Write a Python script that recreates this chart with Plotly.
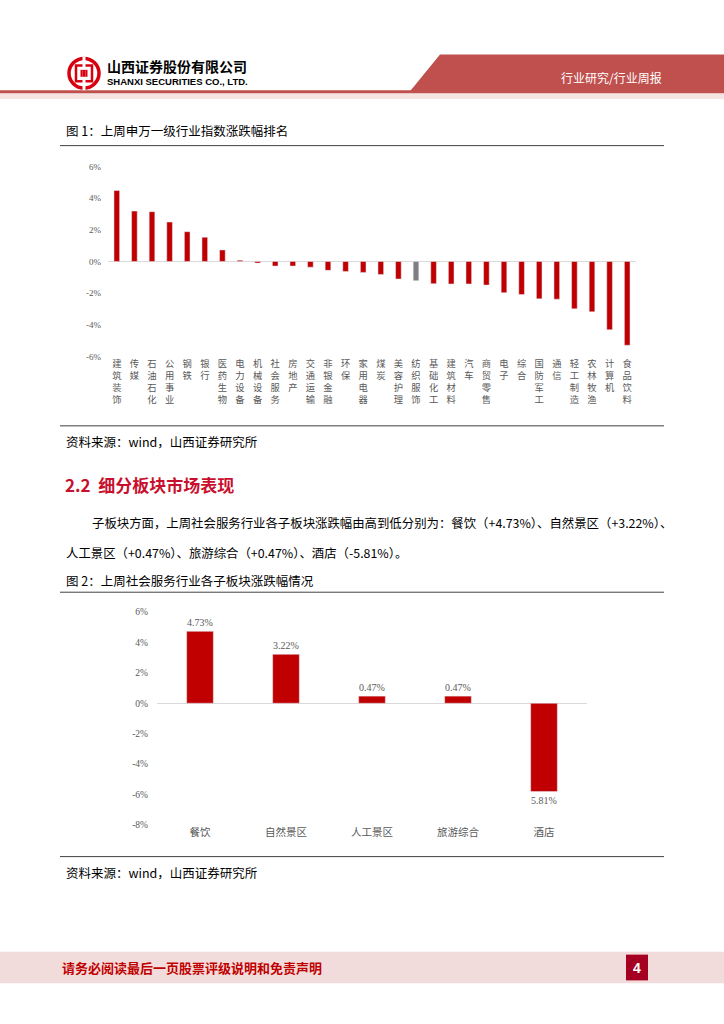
import plotly.graph_objects as go

# ---------------- data ----------------
cats1 = ["建筑装饰", "传媒", "石油石化", "公用事业", "钢铁", "银行", "医药生物", "电力设备",
         "机械设备", "社会服务", "房地产", "交通运输", "非银金融", "环保", "家用电器", "煤炭",
         "美容护理", "纺织服饰", "基础化工", "建筑材料", "汽车", "商贸零售", "电子", "综合",
         "国防军工", "通信", "轻工制造", "农林牧渔", "计算机", "食品饮料"]
vals1 = [4.48, 3.18, 3.14, 2.49, 1.88, 1.53, 0.73, 0.08,
         -0.10, -0.29, -0.29, -0.36, -0.56, -0.63, -0.69, -0.82,
         -1.11, -1.21, -1.40, -1.42, -1.42, -1.49, -1.97, -2.09,
         -2.36, -2.38, -2.99, -3.18, -4.31, -5.29]
highlight1 = "纺织服饰"
yticks1 = [-6, -4, -2, 0, 2, 4, 6]
yticktext1 = ["-6%", "-4%", "-2%", "0%", "2%", "4%", "6%"]

cats2 = ["餐饮", "自然景区", "人工景区", "旅游综合", "酒店"]
vals2 = [4.73, 3.22, 0.47, 0.47, -5.81]
labels2 = ["4.73%", "3.22%", "0.47%", "0.47%", "5.81%"]
yticks2 = [-8, -6, -4, -2, 0, 2, 4, 6]
yticktext2 = ["-8%", "-6%", "-4%", "-2%", "0%", "2%", "4%", "6%"]

# ---------------- helpers ----------------
W, H = 724, 1024
def px(x):
    return x / W
def py(y):
    return 1 - y / H

RED = "#C00000"
GRAY_BAR = "#7F7F7F"
TICK_COLOR = "#595959"
SERIF = "Liberation Serif, Noto Sans CJK SC"
CJK = "Noto Sans CJK SC"

fig = go.Figure()

colors1 = [GRAY_BAR if c == highlight1 else RED for c in cats1]
fig.add_trace(go.Bar(x=cats1, y=vals1, marker_color=colors1, width=0.32,
                     xaxis="x", yaxis="y", hoverinfo="x+y"))
fig.add_trace(go.Bar(x=cats2, y=vals2, marker_color=RED, width=0.31,
                     text=labels2, textposition="outside", cliponaxis=False,
                     textfont=dict(family=SERIF, size=10, color=TICK_COLOR),
                     xaxis="x2", yaxis="y2", hoverinfo="x+y"))

fig.update_layout(
    width=W, height=H, margin=dict(l=0, r=0, t=0, b=0),
    paper_bgcolor="white", plot_bgcolor="white", showlegend=False,
    xaxis=dict(domain=[px(108), px(636)], type="category",
               tickmode="array", tickvals=cats1,
               ticktext=["<br>".join(c) for c in cats1],
               tickangle=0, showgrid=False, showline=False, zeroline=False,
               ticks="", tickfont=dict(family=CJK, size=9.3, color=TICK_COLOR)),
    yaxis=dict(domain=[py(355), py(163)], range=[-6, 6],
               tickmode="array", tickvals=yticks1, ticktext=yticktext1,
               showgrid=False, showline=False, zeroline=True,
               zerolinecolor="#D9D9D9", zerolinewidth=1, ticks="",
               ticklabelstandoff=6,
               tickfont=dict(family=SERIF, size=9, color=TICK_COLOR)),
    xaxis2=dict(domain=[px(157), px(587)], type="category", anchor="y2",
                showgrid=False, showline=False, zeroline=False, ticks="",
                tickfont=dict(family=CJK, size=10.5, color=TICK_COLOR)),
    yaxis2=dict(domain=[py(828), py(613)], range=[-8, 6], anchor="x2",
                tickmode="array", tickvals=yticks2, ticktext=yticktext2,
                showgrid=False, showline=False, zeroline=True,
                zerolinecolor="#D9D9D9", zerolinewidth=1, ticks="",
                ticklabelstandoff=8,
                tickfont=dict(family=SERIF, size=9.5, color=TICK_COLOR)),
)

shapes = []
def hline(y, x0, x1, color, width=1):
    shapes.append(dict(type="line", xref="paper", yref="paper",
                       x0=px(x0), x1=px(x1), y0=py(y), y1=py(y),
                       line=dict(color=color, width=width)))
def rect(x0, y0, x1, y1, color):
    shapes.append(dict(type="rect", xref="paper", yref="paper",
                       x0=px(x0), x1=px(x1), y0=py(y1), y1=py(y0),
                       fillcolor=color, line=dict(width=0), layer="below"))

# header
rect(0, 89, W, 95, "#F6E4E3")
shapes.append(dict(type="path", xref="paper", yref="paper",
                   path=f"M {px(440)},{py(50)} L {px(724)},{py(50)} L {px(724)},{py(87)} L {px(410)},{py(87)} Z",
                   fillcolor="#C0504D", line=dict(width=0)))
rect(0, 86, W, 89, "#C0504D")
# logo
LOGO = "#D7000F"
shapes.append(dict(type="circle", xref="paper", yref="paper",
                   x0=px(69), x1=px(99), y0=py(84), y1=py(54),
                   line=dict(color=LOGO, width=3.5)))
shapes.append(dict(type="rect", xref="paper", yref="paper",
                   x0=px(76), x1=px(92), y0=py(77), y1=py(61),
                   line=dict(color=LOGO, width=2.5)))
shapes.append(dict(type="rect", xref="paper", yref="paper",
                   x0=px(80.5), x1=px(87.5), y0=py(72.5), y1=py(65.5),
                   fillcolor=LOGO, line=dict(width=0)))
shapes.append(dict(type="rect", xref="paper", yref="paper",
                   x0=px(82.5), x1=px(85.5), y0=py(86), y1=py(52),
                   fillcolor="white", line=dict(width=0)))
shapes.append(dict(type="rect", xref="paper", yref="paper",
                   x0=px(82.5), x1=px(85.5), y0=py(72.5), y1=py(65.5),
                   fillcolor=LOGO, line=dict(width=0)))

# chart frames
hline(142, 60, 664, "#404040", 1)
hline(425, 60, 664, "#404040", 1)
hline(593, 60, 664, "#404040", 1)
hline(860, 60, 664, "#404040", 1)

# footer
rect(0, 956, W, 988, "#F2DCDB")
shapes.append(dict(type="rect", xref="paper", yref="paper",
                   x0=px(626), x1=px(648), y0=py(985), y1=py(959),
                   fillcolor="#A50021", line=dict(width=0)))

fig.update_layout(shapes=shapes)

ann = []
def text(x, y, s, size, color="#000000", family=CJK, xanchor="left", bold=False):
    if bold:
        s = f"<b>{s}</b>"
    ann.append(dict(x=px(x), y=py(y), xref="paper", yref="paper", text=s,
                    showarrow=False, xanchor=xanchor, yanchor="middle",
                    font=dict(family=family, size=size, color=color)))

text(105, 62, "山西证券股份有限公司", 14, "#000000", bold=True)
text(105, 77, "SHANXI SECURITIES CO., LTD.", 9.5, "#000000", family="Liberation Sans", bold=True)
text(611, 73, "行业研究/行业周报", 12, "white", xanchor="center")

text(64, 127, "图 1：上周申万一级行业指数涨跌幅排名", 12.5)
text(64, 441, "资料来源：wind，山西证券研究所", 12.5)
text(63, 484, "2.2  细分板块市场表现", 17, "#C8102E", bold=True)
text(90, 523, "子板块方面，上周社会服务行业各子板块涨跌幅由高到低分别为：餐饮（+4.73%）、自然景区（+3.22%）、", 12.4)
text(64, 553, "人工景区（+0.47%）、旅游综合（+0.47%）、酒店（-5.81%）。", 12.4)
text(64, 581, "图 2：上周社会服务行业各子板块涨跌幅情况", 12.5)
text(64, 876, "资料来源：wind，山西证券研究所", 12.5)

text(60, 972, "请务必阅读最后一页股票评级说明和免责声明", 13, "#C00000", bold=True)
text(637, 972, "4", 14, "white", family="Liberation Sans", xanchor="center", bold=True)

fig.update_layout(annotations=ann)
fig.write_html("out.html", config={"displayModeBar": False},
               post_script="document.body.style.margin='0';document.body.style.padding='0';document.body.style.overflow='hidden';")
